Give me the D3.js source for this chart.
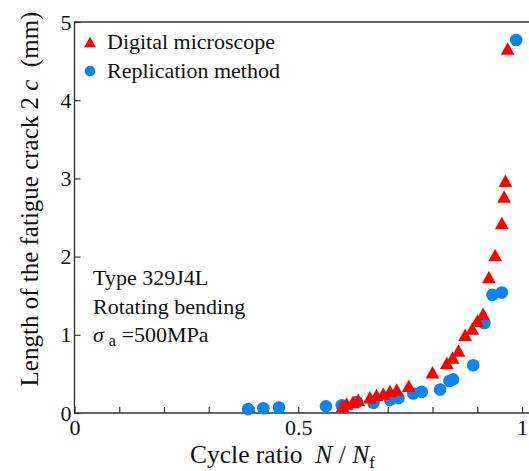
<!DOCTYPE html>
<html>
<head>
<meta charset="utf-8">
<script src="https://cdn.jsdelivr.net/npm/d3@7"></script>
</head>
<body style="margin:0">
<div id="chart"></div>
<script>
// Digital microscope (triangles)
const microX = [0.599, 0.608, 0.622, 0.634, 0.660, 0.675, 0.690, 0.705, 0.720, 0.747,
                0.800, 0.832, 0.845, 0.858, 0.873, 0.889, 0.900, 0.913, 0.926, 0.940,
                0.955, 0.960, 0.963, 0.968];
const microY = [0.09, 0.12, 0.14, 0.17, 0.20, 0.23, 0.25, 0.28, 0.30, 0.35,
                0.52, 0.64, 0.71, 0.80, 1.00, 1.08, 1.18, 1.27, 1.74, 2.02,
                2.43, 2.77, 2.97, 4.66];
// Replication method (circles)
const replX = [0.388, 0.422, 0.457, 0.562, 0.597, 0.631, 0.668, 0.705, 0.724, 0.757,
               0.776, 0.817, 0.838, 0.846, 0.891, 0.916, 0.934, 0.955, 0.987];
const replY = [0.05, 0.06, 0.07, 0.085, 0.10, 0.14, 0.13, 0.17, 0.19, 0.25,
               0.27, 0.30, 0.41, 0.43, 0.61, 1.15, 1.51, 1.54, 4.77];

const xTicks = [0, 0.1, 0.2, 0.3, 0.4, 0.5, 0.6, 0.7, 0.8, 0.9, 1.0];
const xLabels = {0: "0", 0.5: "0.5", 1: "1"};
const yTicks = [0, 1, 2, 3, 4, 5];

const fam = "Liberation Serif";
const width = 529, height = 471;
const svg = d3.select("#chart").append("svg")
    .attr("width", width).attr("height", height)
    .attr("font-family", fam)
    .style("display", "block");

const x = d3.scaleLinear().domain([0, 1]).range([74.5, 522]);
const y = d3.scaleLinear().domain([0, 5]).range([413, 22]);

const axisColor = "#333";

// frame (right side is cut off by the picture)
svg.append("path")
    .attr("d", `M${width + 5},${y(5)}H${x(0)}V${y(0)}H${width + 5}`)
    .attr("fill", "none").attr("stroke", axisColor).attr("stroke-width", 1.4);

// x axis
const gx = svg.append("g")
    .attr("transform", `translate(0,${y(0)})`)
    .call(d3.axisBottom(x).tickValues(xTicks).tickSizeInner(-6).tickSizeOuter(0)
        .tickFormat(d => xLabels[Math.round(d * 10) / 10] || ""));
gx.attr("font-family", fam).attr("font-size", 22);
gx.select(".domain").remove();
gx.selectAll(".tick line").attr("stroke", axisColor).attr("stroke-width", 1.2);
gx.selectAll(".tick text").attr("y", 22).attr("dy", null).attr("fill", "#111");

// y axis
const gy = svg.append("g")
    .attr("transform", `translate(${x(0)},0)`)
    .call(d3.axisLeft(y).tickValues(yTicks).tickSizeInner(-6).tickSizeOuter(0)
        .tickFormat(d3.format("d")));
gy.attr("font-family", fam).attr("font-size", 22);
gy.select(".domain").remove();
gy.selectAll(".tick line").attr("stroke", axisColor).attr("stroke-width", 1.2);
gy.selectAll(".tick text").attr("x", -3).attr("dy", "0.32em").attr("fill", "#111");

// axis titles
const xt = svg.append("text")
    .attr("x", 190).attr("y", 463)
    .attr("font-size", 25.5).attr("fill", "#111");
xt.append("tspan").text("Cycle ratio\u00a0\u00a0");
xt.append("tspan").attr("font-style", "italic").text("N");
xt.append("tspan").text(" / ");
xt.append("tspan").attr("font-style", "italic").text("N");
xt.append("tspan").attr("dy", 5).attr("font-size", 17).text("f");

const yt = svg.append("text")
    .attr("transform", "translate(38,199) rotate(-90)")
    .attr("text-anchor", "middle")
    .attr("font-size", 25).attr("fill", "#111");
yt.append("tspan").text("Length of the fatigue crack 2 ");
yt.append("tspan").attr("font-style", "italic").text("c");
yt.append("tspan").text("\u00a0\u00a0(mm)");

// triangle path centred on its bounding box
function tri(w, h) {
  return `M0,${-h / 2}L${w / 2},${h / 2}L${-w / 2},${h / 2}Z`;
}

const blue = "#0a84ee", red = "#ff0000";
const repl = replX.map((v, i) => ({x: v, y: replY[i]}));
const micro = microX.map((v, i) => ({x: v, y: microY[i]}));

svg.append("g").selectAll("circle").data(repl).join("circle")
    .attr("cx", d => x(d.x)).attr("cy", d => y(d.y)).attr("r", 6.3)
    .attr("fill", blue);

svg.append("g").selectAll("path").data(micro).join("path")
    .attr("transform", d => `translate(${x(d.x)},${y(d.y)})`)
    .attr("d", tri(13.8, 12.5)).attr("fill", red);

// legend
const legend = svg.append("g").attr("fill", "#111").attr("font-size", 22);
legend.append("path").attr("transform", "translate(90,42)").attr("d", tri(12, 10.5)).attr("fill", red);
legend.append("text").attr("x", 107).attr("y", 49).text("Digital microscope");
legend.append("circle").attr("cx", 90).attr("cy", 71).attr("r", 5.3).attr("fill", blue);
legend.append("text").attr("x", 107).attr("y", 78).text("Replication method");

// condition note
const note = svg.append("g").attr("fill", "#111").attr("font-size", 22);
note.append("text").attr("x", 93).attr("y", 285).text("Type 329J4L");
note.append("text").attr("x", 93).attr("y", 314).text("Rotating bending");
const s = note.append("text").attr("x", 93).attr("y", 342);
s.append("tspan").attr("font-style", "italic").text("\u03c3");
s.append("tspan").attr("dx", 5).attr("dy", 4).attr("font-size", 16).text("a");
s.append("tspan").attr("dy", -4).text(" =500MPa");

svg.selectAll("text").attr("font-family", fam).style("font-family", `"${fam}", monospace`);
</script>
</body>
</html>
